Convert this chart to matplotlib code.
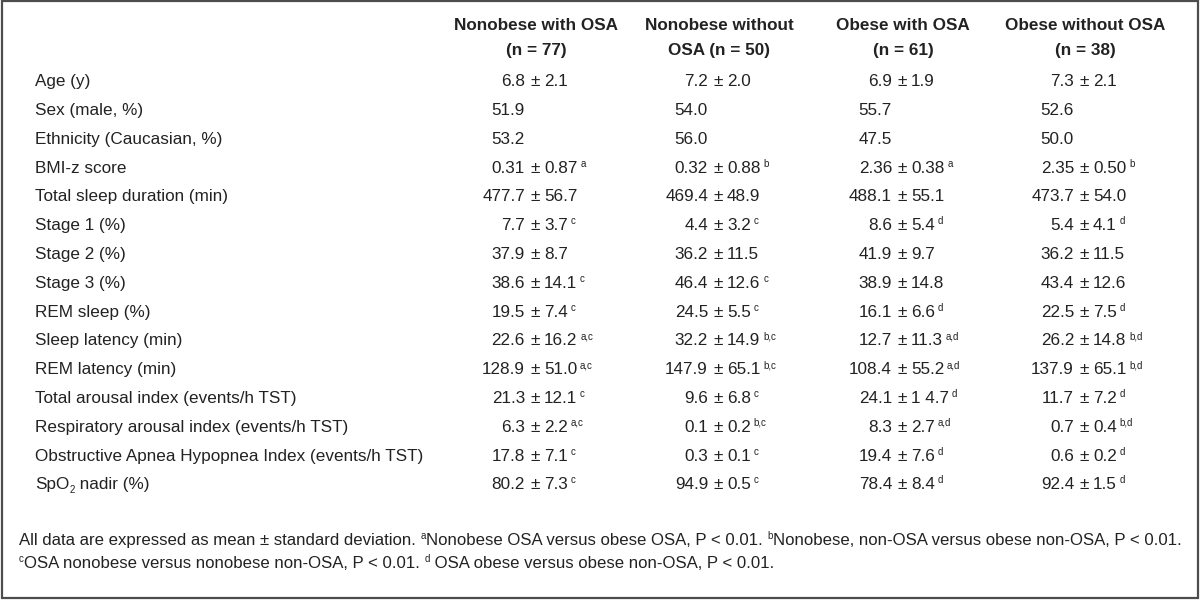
import matplotlib
matplotlib.use("Agg")
import matplotlib.pyplot as plt
from matplotlib.patches import Rectangle

plt.rcParams['font.family'] = ['Liberation Sans', 'DejaVu Sans']

# --- table content ---
row_labels = ["Age (y)", "Sex (male, %)", "Ethnicity (Caucasian, %)", "BMI-z score",
              "Total sleep duration (min)", "Stage 1 (%)", "Stage 2 (%)", "Stage 3 (%)",
              "REM sleep (%)", "Sleep latency (min)", "REM latency (min)",
              "Total arousal index (events/h TST)", "Respiratory arousal index (events/h TST)",
              "Obstructive Apnea Hypopnea Index (events/h TST)", "SpO|2| nadir (%)"]

headers = [("Nonobese with OSA", "(n = 77)"),
           ("Nonobese without", "OSA (n = 50)"),
           ("Obese with OSA", "(n = 61)"),
           ("Obese without OSA", "(n = 38)")]

nonobese_osa = ["6.8 ± 2.1", "51.9", "53.2", "0.31 ± 0.87", "477.7 ± 56.7", "7.7 ± 3.7",
                "37.9 ± 8.7", "38.6 ± 14.1", "19.5 ± 7.4", "22.6 ± 16.2", "128.9 ± 51.0",
                "21.3 ± 12.1", "6.3 ± 2.2", "17.8 ± 7.1", "80.2 ± 7.3"]
nonobese_osa_sup = ["", "", "", "a", "", "c", "", "c", "c", "a,c", "a,c", "c", "a,c", "c", "c"]

nonobese_no_osa = ["7.2 ± 2.0", "54.0", "56.0", "0.32 ± 0.88", "469.4 ± 48.9", "4.4 ± 3.2",
                   "36.2 ± 11.5", "46.4 ± 12.6", "24.5 ± 5.5", "32.2 ± 14.9", "147.9 ± 65.1",
                   "9.6 ± 6.8", "0.1 ± 0.2", "0.3 ± 0.1", "94.9 ± 0.5"]
nonobese_no_osa_sup = ["", "", "", "b", "", "c", "", "c", "c", "b,c", "b,c", "c", "b,c", "c", "c"]

obese_osa = ["6.9 ± 1.9", "55.7", "47.5", "2.36 ± 0.38", "488.1 ± 55.1", "8.6 ± 5.4",
             "41.9 ± 9.7", "38.9 ± 14.8", "16.1 ± 6.6", "12.7 ± 11.3", "108.4 ± 55.2",
             "24.1 ± 1 4.7", "8.3 ± 2.7", "19.4 ± 7.6", "78.4 ± 8.4"]
obese_osa_sup = ["", "", "", "a", "", "d", "", "", "d", "a,d", "a,d", "d", "a,d", "d", "d"]

obese_no_osa = ["7.3 ± 2.1", "52.6", "50.0", "2.35 ± 0.50", "473.7 ± 54.0", "5.4 ± 4.1",
                "36.2 ± 11.5", "43.4 ± 12.6", "22.5 ± 7.5", "26.2 ± 14.8", "137.9 ± 65.1",
                "11.7 ± 7.2", "0.7 ± 0.4", "0.6 ± 0.2", "92.4 ± 1.5"]
obese_no_osa_sup = ["", "", "", "b", "", "d", "", "", "d", "b,d", "b,d", "d", "b,d", "d", "d"]

columns = [(nonobese_osa, nonobese_osa_sup), (nonobese_no_osa, nonobese_no_osa_sup),
           (obese_osa, obese_osa_sup), (obese_no_osa, obese_no_osa_sup)]

footnote_1 = [("All data are expressed as mean ± standard deviation. ", "n"), ("a", "sup"),
              ("Nonobese OSA versus obese OSA, P < 0.01. ", "n"), ("b", "sup"),
              ("Nonobese, non-OSA versus obese non-OSA, P < 0.01.", "n")]
footnote_2 = [("c", "sup"), ("OSA nonobese versus nonobese non-OSA, P < 0.01. ", "n"),
              ("d", "sup"), (" OSA obese versus obese non-OSA, P < 0.01.", "n")]

# --- layout (pixel coords) ---
W, H = 1200, 601
col_pm = [535, 718, 902, 1084]   # x of the "±" in each column
label_x = 35
row_y0, row_step = 80, 28.8
fs = 12.3
fs_foot = 12.1
fs_sup = 7
ink = "#222222"

fig = plt.figure(figsize=(12, 6.01), dpi=100)
ax = fig.add_axes([0, 0, 1, 1])
ax.set_xlim(0, W)
ax.set_ylim(H, 0)
ax.axis("off")

ax.add_patch(Rectangle((2, 1), 1196, 597, fill=False, edgecolor="#4d4d4d", lw=1.6))


def chain(x, yb, pieces, size=fs):
    # draw text pieces one after another on a baseline
    prev = None
    for txt, kind in pieces:
        s = size if kind == "n" else fs_sup
        dy = {"n": 0, "sup": -6, "sub": 4}[kind]
        if prev is None:
            prev = ax.text(x, yb + dy, txt, fontsize=s, color=ink, va="baseline", ha="left")
        else:
            prev = ax.annotate(txt, xy=(1, yb + dy), xycoords=(prev, "data"),
                               fontsize=s, color=ink, va="baseline", ha="left")
    return prev


# headers
for (l1, l2), cx in zip(headers, col_pm):
    ax.text(cx + 1, 26, l1, fontsize=fs, fontweight="bold", color=ink, ha="center", va="center")
    ax.text(cx + 1, 50, l2, fontsize=fs, fontweight="bold", color=ink, ha="center", va="center")

# rows
for i, lab in enumerate(row_labels):
    yb = row_y0 + i * row_step + 6.2
    parts = lab.split("|")
    pieces = [(p, "sub" if k % 2 else "n") for k, p in enumerate(parts) if p]
    chain(label_x, yb, pieces)

    for (vals, sups), px in zip(columns, col_pm):
        v = vals[i]
        if " ± " in v:
            mean, sd = v.split(" ± ")
            ax.text(px - 10, yb, mean, fontsize=fs, color=ink, va="baseline", ha="right")
            ax.text(px, yb, "±", fontsize=fs, color=ink, va="baseline", ha="center")
            t = ax.text(px + 9, yb, sd, fontsize=fs, color=ink, va="baseline", ha="left")
            if sups[i]:
                ax.annotate(sups[i], xy=(1, yb - 6), xycoords=(t, "data"),
                            xytext=(2, 0), textcoords="offset points",
                            fontsize=fs_sup, color=ink, va="baseline", ha="left")
        else:
            ax.text(px - 10, yb, v, fontsize=fs, color=ink, va="baseline", ha="right")

# footnotes
chain(19, 545, footnote_1, size=fs_foot)
chain(19, 568, footnote_2, size=fs_foot)

fig.savefig("out.png", dpi=100)
